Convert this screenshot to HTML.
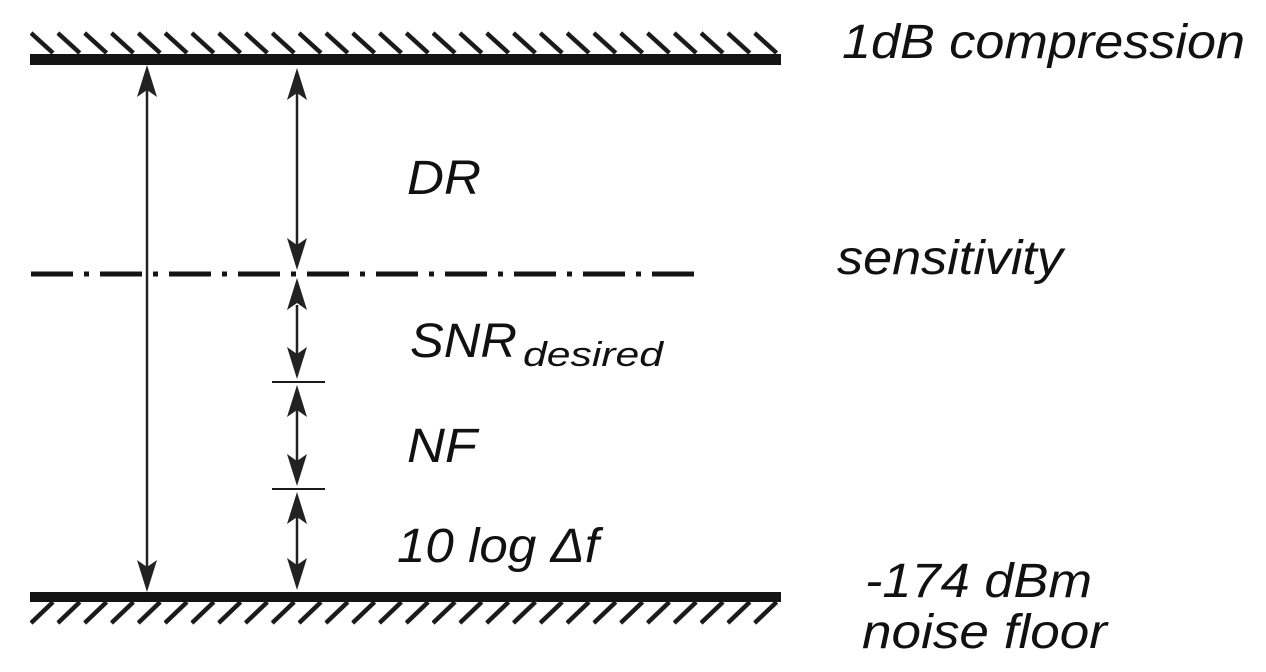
<!DOCTYPE html>
<html><head><meta charset="utf-8"><style>html,body{margin:0;padding:0;background:#fff;}svg{display:block}</style></head>
<body>
<svg width="1266" height="672" viewBox="0 0 1266 672" xmlns="http://www.w3.org/2000/svg">
<defs>
<pattern id="ht" x="30" y="0" width="26.8" height="672" patternUnits="userSpaceOnUse">
<line x1="1" y1="33" x2="23" y2="53" stroke="#1a1a1a" stroke-width="4.5"/>
</pattern>
<pattern id="hb" x="30" y="0" width="26.8" height="672" patternUnits="userSpaceOnUse">
<line x1="1" y1="623" x2="23" y2="602" stroke="#1a1a1a" stroke-width="4.5"/>
</pattern>
</defs>
<rect x="30" y="30" width="750" height="25" fill="url(#ht)"/>
<rect x="30" y="600" width="750" height="26" fill="url(#hb)"/>
<rect x="30" y="54" width="751" height="11" fill="#141414"/>
<rect x="30" y="592" width="751" height="10" fill="#141414"/>
<!-- dash-dot -->
<line x1="31" y1="274" x2="702" y2="274" stroke="#141414" stroke-width="5" stroke-dasharray="42 11 5 11"/>
<!-- ticks -->
<line x1="272" y1="382" x2="325" y2="382" stroke="#1a1a1a" stroke-width="2"/>
<line x1="272" y1="489" x2="325" y2="489" stroke="#1a1a1a" stroke-width="2"/>
<g stroke="#222" stroke-width="2.5">
<line x1="147" y1="90" x2="147" y2="570"/>
<line x1="297" y1="92" x2="297" y2="245"/>
<line x1="297" y1="305" x2="297" y2="354"/>
<line x1="297" y1="410" x2="297" y2="462"/>
<line x1="297" y1="516" x2="297" y2="566"/>
</g>
<g fill="#222">
<polygon points="147,65 137,97 147,90 157,97"/>
<polygon points="147,592 137,560 147,567 157,560"/>
<polygon points="297,68 287,100 297,93 307,100"/>
<polygon points="297,270 287,238 297,245 307,238"/>
<polygon points="297,278 287,310 297,303 307,310"/>
<polygon points="297,379 287,347 297,354 307,347"/>
<polygon points="297,385 287,417 297,410 307,417"/>
<polygon points="297,486 287,454 297,461 307,454"/>
<polygon points="297,492 287,524 297,517 307,524"/>
<polygon points="297,590 287,558 297,565 307,558"/>
</g>
<g font-family="Liberation Sans, sans-serif" font-style="italic" fill="#111" font-size="48" lengthAdjust="spacingAndGlyphs">
<text x="842" y="58" textLength="403" lengthAdjust="spacingAndGlyphs">1dB compression</text>
<text x="407" y="194" textLength="74" lengthAdjust="spacingAndGlyphs">DR</text>
<text x="837" y="274" textLength="226" lengthAdjust="spacingAndGlyphs">sensitivity</text>
<text x="410" y="357" textLength="107" lengthAdjust="spacingAndGlyphs">SNR</text>
<text x="523" y="366" font-size="34" textLength="140" lengthAdjust="spacingAndGlyphs">desired</text>
<text x="407" y="462" textLength="70" lengthAdjust="spacingAndGlyphs">NF</text>
<text x="397" y="562" textLength="202" lengthAdjust="spacingAndGlyphs">10 log Δf</text>
<text x="865" y="597" textLength="227" lengthAdjust="spacingAndGlyphs">-174 dBm</text>
<text x="862" y="648" textLength="245" lengthAdjust="spacingAndGlyphs">noise floor</text>
</g>
</svg>
</body></html>
